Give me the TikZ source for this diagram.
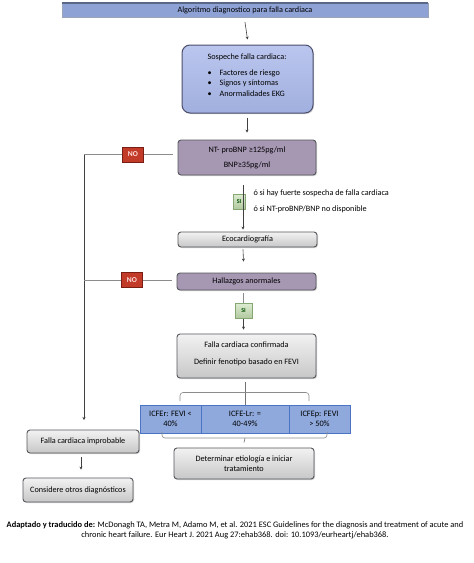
\documentclass[tikz,border=0pt]{standalone}
\usepackage{fontspec}
\setmainfont{Carlito}
\usetikzlibrary{arrows.meta,shadows}
\definecolor{titlefill}{HTML}{8EA2D6}
\definecolor{titleedge}{HTML}{5A6888}
\definecolor{sospfill}{HTML}{A9B8EA}
\definecolor{purpfill}{HTML}{A697B3}
\definecolor{boxedge}{HTML}{55575C}
\definecolor{nofill}{HTML}{C23A28}
\definecolor{noedge}{HTML}{7A1E14}
\definecolor{sifill}{HTML}{C4DEB0}
\definecolor{siedge}{HTML}{86A672}
\definecolor{tabfill}{HTML}{8FA9DC}
\definecolor{tabedge}{HTML}{4A74C6}
\definecolor{linegray}{HTML}{8C8C8C}
\begin{document}
\begin{tikzpicture}[x=1pt,y=-1pt,
  font=\fontsize{8.2}{9.5}\selectfont,
  conn/.style={draw=linegray, line width=0.6pt},
  arr/.style={conn, -{Stealth[length=3pt,width=3pt]}, draw=black!75},
  graybox/.style={draw=boxedge, line width=0.9pt, rounded corners=3pt, top color=white!95!black, bottom color=black!22, drop shadow={shadow xshift=1pt, shadow yshift=-1pt, opacity=0.35}, align=center, inner sep=0pt},
  purpbox/.style={draw=boxedge, line width=0.9pt, rounded corners=3pt, fill=purpfill, drop shadow={shadow xshift=1pt, shadow yshift=-1pt, opacity=0.35}, align=center, inner sep=0pt},
  nobox/.style={draw=noedge, line width=0.6pt, fill=nofill, text=red!12, font=\fontsize{7.5}{8}\selectfont\bfseries, minimum width=21pt, minimum height=15pt, inner sep=0pt},
  sibox/.style={draw=siedge, line width=0.6pt, top color=sifill!60, bottom color=sifill!90!black, text=black!70!green, font=\fontsize{6}{7}\selectfont\bfseries, minimum width=12pt, minimum height=15pt, inner sep=0pt},
  cell/.style={draw=tabedge, line width=0.7pt, fill=tabfill, align=center, minimum height=28pt, inner sep=0pt, font=\fontsize{8.3}{9.8}\selectfont},
  bracket/.style={draw=black!45, line width=0.6pt, rounded corners=3pt}
]
\useasboundingbox (0,0) rectangle (474,563);
\fill[white] (0,0) rectangle (474,563);

% title
\node[fill=titlefill, draw=titleedge!60, line width=0.4pt, minimum width=366pt, minimum height=14pt, inner sep=0pt] (title) at (245,10) {Algoritmo diagnostico para falla cardiaca};
\draw[titleedge, line width=1.6pt] (title.north west) -- (title.north east);

% suspicion box
\node[draw=boxedge!90!blue, line width=1pt, rounded corners=8pt, top color=sospfill!80, bottom color=sospfill!95!black, minimum width=131pt, minimum height=68pt, drop shadow={shadow xshift=1pt, shadow yshift=-1pt, opacity=0.35}] (sosp) at (247.5,79) {};
\node (sospT) at (247,57) {Sospeche falla cardiaca:};
\node[anchor=west] (b1) at (204,73) {\textbullet\hspace{8pt}Factores de riesgo};
\node[anchor=west] (b2) at (204,83.5) {\textbullet\hspace{8pt}Signos y síntomas};
\node[anchor=west] (b3) at (204,94) {\textbullet\hspace{8pt}Anormalidades EKG};

% NT-proBNP
\node[purpbox, minimum width=138pt, minimum height=35pt] (nt) at (247,157.5) {};
\node (ntA) at (247,150) {NT- proBNP ≥125pg/ml};
\node (ntB) at (247,165) {BNP≥35pg/ml};

% Eco
\node[graybox, minimum width=139pt, minimum height=15pt] (eco) at (247.5,239.5) {Ecocardiografía};
% Hallazgos
\node[purpbox, minimum width=139pt, minimum height=17pt] (hall) at (246.5,281.5) {Hallazgos anormales};
% confirmada
\node[graybox, minimum width=139pt, minimum height=44pt] (conf) at (246.5,356) {};
\node (confA) at (246.5,345) {Falla cardiaca confirmada};
\node (confB) at (246.5,362) {Definir fenotipo basado en FEVI};

% table
\node[cell, minimum width=61pt] (c1) at (170.5,419) {ICFEr: FEVI <\\40\%};
\node[cell, minimum width=88pt] (c2) at (245,419) {ICFE-Lr: =\\40-49\%};
\node[cell, minimum width=61pt] (c3) at (319.5,419) {ICFEp: FEVI\\> 50\%};

% determinar
\node[graybox, minimum width=140pt, minimum height=31pt] (det) at (244,463.5) {Determinar etiología e iniciar\\tratamiento};

% left branch
\node[graybox, minimum width=112pt, minimum height=23pt] (improb) at (83,441.5) {Falla cardiaca improbable};
\node[graybox, minimum width=110pt, minimum height=24pt] (otros) at (78,490) {Considere otros diagnósticos};

% NO / SI boxes
\node[nobox] (no1) at (133,154.5) {NO};
\node[nobox] (no2) at (132,280) {NO};
\node[sibox] (si1) at (239,201.5) {SI};
\node[sibox, minimum width=17pt] (si2) at (243.5,311) {SI};

% side texts
\node[anchor=west] (t1) at (250,193) {ó si hay fuerte sospecha de falla cardiaca};
\node[anchor=west] (t2) at (250,209) {ó si NT-proBNP/BNP no disponible};

% corner coordinates
\coordinate (k1) at (84,154.5);
\coordinate (k2) at (84,280);
\coordinate (k3) at (84,420);
\coordinate (xl) at (81,0);

% connectors
\draw[arr] ([yshift=-5pt]title.south) -- ([yshift=5pt]sosp.north);
\draw[arr] ([yshift=-4pt]sosp.south -| nt.north) -- ([yshift=7pt]nt.north);
\draw[conn] ([xshift=-5pt]nt.west |- no1.east) -- (no1.east);
\draw[conn] (no1.west) -- (k1);
\draw[arr] (k1) -- (k3);
\draw[conn] ([xshift=-5pt]hall.west |- no2.east) -- (no2.east);
\draw[conn] (no2.west) -- (k2);
\draw[arr] ([xshift=-4pt,yshift=-10pt]nt.south) -- ([xshift=-4.5pt,yshift=2pt]eco.north);
\draw[arr] ([xshift=-4.5pt,yshift=-2pt]eco.south) -- ([yshift=11pt]hall.north -| si2);
\draw[conn] ([yshift=-3pt]hall.south -| si2) -- (si2.north);
\draw[arr] (si2.south) -- ([yshift=4pt]conf.north -| si2);
\draw[arr] ([yshift=-4pt]improb.south -| xl) -- ([yshift=8pt]otros.north -| xl);

% brackets
\draw[conn, draw=black!55] ([yshift=-4pt]conf.south -| c2.north) -- (c2.north);
\draw[bracket] (180,401) -- (180,392.5) -- (309,392.5) -- (309,401);
\draw[bracket] (162,432) -- (162,438) -- (327,438) -- (327,432);
\draw[conn, draw=black!55] (c2.south |- 0,438) -- ([yshift=5pt]det.north);

% footer
\node[font=\fontsize{8.4}{10}\selectfont, align=center] (foot) at (235,530) {\textbf{Adaptado y traducido de:} McDonagh TA, Metra M, Adamo M, et al. 2021 ESC Guidelines for the diagnosis and treatment of acute and\\chronic heart failure. Eur Heart J. 2021 Aug 27:ehab368. doi: 10.1093/eurheartj/ehab368.};
\end{tikzpicture}
\end{document}
